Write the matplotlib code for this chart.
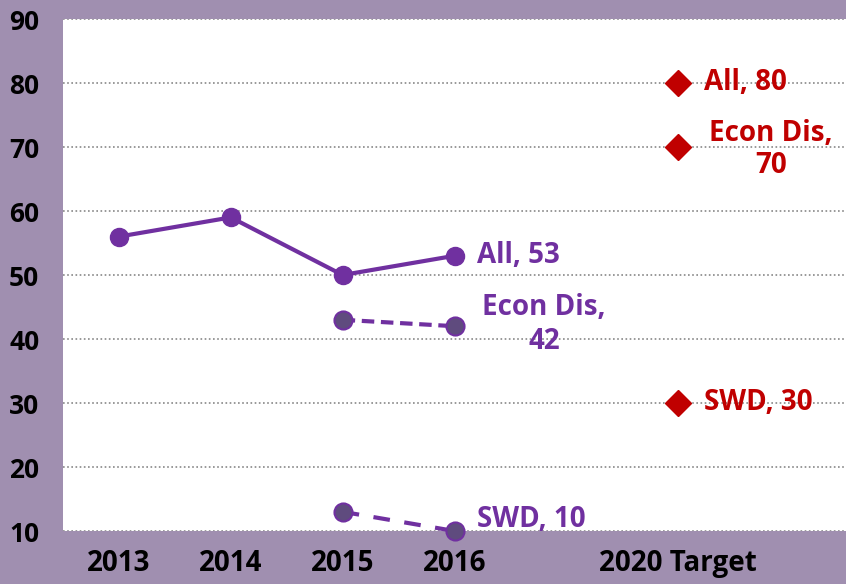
import matplotlib
matplotlib.use("Agg")
import matplotlib.pyplot as plt

categories = ["2013", "2014", "2015", "2016", "", "2020 Target", ""]
all_years = [0, 1, 2, 3]
all_vals = [56, 59, 50, 53]
econ_years = [2, 3]
econ_vals = [43, 42]
swd_years = [2, 3]
swd_vals = [13, 10]
target_x = 5
target_vals = [80, 70, 30]
target_labels = ["All, 80", "Econ Dis,\n70", "SWD, 30"]
y_ticks = [10, 20, 30, 40, 50, 60, 70, 80, 90]

purple = "#7030A0"
dark_fill = "#5F4B7E"
red = "#C00000"
bg = "#A08FB0"

plt.rcParams['font.family'] = ['Open Sans', 'DejaVu Sans']

fig = plt.figure(figsize=(8.46, 5.84), dpi=100, facecolor=bg)
ax = fig.add_axes([63/846, 53/584, (846-63)/846, (531-19)/584])
ax.set_facecolor("white")

ax.plot(all_years, all_vals, color=purple, lw=3, marker="o", ms=13,
        mfc=purple, mec=purple, zorder=3)
ax.plot(econ_years, econ_vals, color=purple, lw=3, ls=(0, (3, 1.6)),
        marker="o", ms=13, mfc=dark_fill, mec=purple, mew=1.5, zorder=3)
ax.plot(swd_years, swd_vals, color=purple, lw=3, ls=(0, (4, 3.5)),
        marker="o", ms=13, mfc=dark_fill, mec=purple, mew=1.5, zorder=3,
        clip_on=False)
ax.plot([target_x]*len(target_vals), target_vals, ls="none", marker="D",
        ms=13, color=red, zorder=3)

fs = 20
ax.text(3.2, all_vals[-1], "All, 53", color=purple, fontsize=fs,
        fontweight="bold", va="center", ha="left")
ax.text(3.8, econ_vals[-1] + 0.3, "Econ Dis,\n42", color=purple, fontsize=fs,
        fontweight="bold", va="center", ha="center", linespacing=1.25)
ax.text(3.2, swd_vals[-1] + 1.8, "SWD, 10", color=purple, fontsize=fs,
        fontweight="bold", va="center", ha="left")

ax.text(target_x + 0.23, target_vals[0], target_labels[0], color=red,
        fontsize=fs, fontweight="bold", va="center", ha="left")
ax.text(target_x + 0.83, target_vals[1] - 0.4, target_labels[1], color=red,
        fontsize=fs, fontweight="bold", va="center", ha="center",
        linespacing=1.15)
ax.text(target_x + 0.23, target_vals[2], target_labels[2], color=red,
        fontsize=fs, fontweight="bold", va="center", ha="left")

ax.set_xlim(-0.5, 6.5)
ax.set_ylim(10, 90)
ax.set_yticks(y_ticks)
ax.set_yticklabels([str(v) for v in y_ticks], fontsize=19, fontweight="bold")
ax.set_xticks(range(len(categories)))
ax.set_xticklabels(categories, fontsize=20, fontweight="bold")
ax.tick_params(axis="x", length=0, pad=13)
ax.tick_params(axis="y", length=0, pad=17)
for s in ax.spines.values():
    s.set_visible(False)
ax.grid(axis="y", color="#888888", ls=(0, (1, 1.5)), lw=1.2, zorder=1)
ax.set_axisbelow(True)

fig.savefig("out.png", dpi=100, facecolor=bg)
